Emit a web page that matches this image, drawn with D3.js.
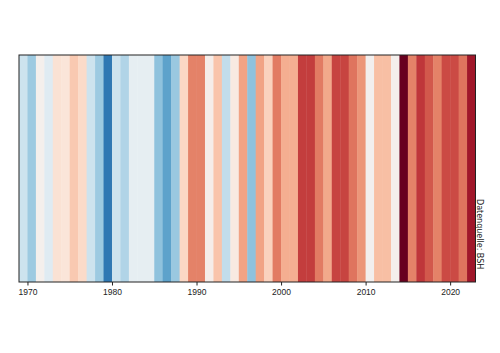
<!DOCTYPE html>
<html>
<head>
<meta charset="utf-8">
<script src="https://cdn.jsdelivr.net/npm/d3@7"></script>
<style>
  body { margin: 0; background: #fff; }
  svg { display: block; }
</style>
</head>
<body>
<div id="chart"></div>
<script>
const WIDTH = 500;
const HEIGHT = 353;
const MARGIN = { top: 55, right: 24.5, bottom: 71, left: 19 };

// Jahre und Temperaturanomalie (Nordsee, normiert)
const years = d3.range(1969, 2023);
const anomaly = [
    -0.20, -0.36, 0.02, -0.12, 0.14, 0.12, 0.26, 0.18, -0.20, -0.36,
    -0.72, -0.20, -0.30, -0.08, -0.08, -0.08, -0.40, -0.54, -0.37, 0.20,
    0.50, 0.50, 0.04, 0.28, -0.24, 0.08, 0.40, -0.40, 0.40, 0.22,
    0.52, 0.36, 0.36, 0.70, 0.70, 0.52, 0.38, 0.68, 0.68, 0.54,
    0.44, 0.00, 0.30, 0.30, 0.02, 1.00, 0.50, 0.72, 0.62, 0.50,
    0.66, 0.66, 0.54, 0.84
];
const tickYears = [1970, 1980, 1990, 2000, 2010, 2020];
const source = "Datenquelle: BSH";

const innerW = WIDTH - MARGIN.left - MARGIN.right;
const innerH = HEIGHT - MARGIN.top - MARGIN.bottom;

const svg = d3.select("#chart")
    .append("svg")
        .attr("width", WIDTH)
        .attr("height", HEIGHT)
        .style("font-family", "'DejaVu Sans', sans-serif");

const g = svg.append("g")
    .attr("transform", `translate(${MARGIN.left}, ${MARGIN.top})`);

const x = d3.scaleLinear()
    .domain([years[0], years[years.length - 1] + 1])
    .range([0, innerW]);

const color = d3.scaleSequential(d3.interpolateRdBu)
    .domain([1, -1]);

g.selectAll("rect.stripe")
    .data(years)
    .enter()
    .append("rect")
        .attr("class", "stripe")
        .attr("x", d => x(d))
        .attr("y", 0)
        .attr("width", d => x(d + 1) - x(d) + 0.4)   // kleine Überlappung gegen Lücken
        .attr("height", innerH)
        .attr("fill", (d, i) => color(anomaly[i]));

// Rahmen
g.append("rect")
    .attr("x", 0)
    .attr("y", 0)
    .attr("width", innerW)
    .attr("height", innerH)
    .attr("fill", "none")
    .attr("stroke", "#222")
    .attr("stroke-width", 1);

const xAxis = g.append("g")
    .attr("transform", `translate(0, ${innerH})`)
    .call(d3.axisBottom(x)
        .tickValues(tickYears)
        .tickFormat(d3.format("d"))
        .tickSize(3.5)
        .tickPadding(3.5));

xAxis.select(".domain").remove();
xAxis.selectAll(".tick line").attr("stroke", "#222");
xAxis.selectAll(".tick text")
    .attr("fill", "#222")
    .style("font-size", "8.5px");

svg.append("text")
    .attr("transform", `translate(${MARGIN.left + innerW + 3.5}, 199) rotate(90)`)
    .attr("dominant-baseline", "middle")
    .attr("fill", "#222")
    .style("font-size", "8px")
    .text(source);
</script>
</body>
</html>
